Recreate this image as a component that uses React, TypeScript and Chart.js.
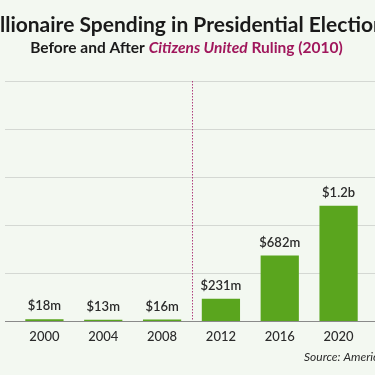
import React, { useEffect, useRef } from "react";
import { Chart, registerables } from "chart.js";

Chart.register(...registerables);

const years = ["2000", "2004", "2008", "2012", "2016", "2020"];
const spending = [0.018, 0.013, 0.016, 0.231, 0.682, 1.2]; // billions USD
const valueLabels = ["$18m", "$13m", "$16m", "$231m", "$682m", "$1.2b"];
const yMax = 2.5;
const yStep = 0.5;

const BG = "#f3f8f1";
const GREEN = "#5aa51e";
const MAGENTA = "#a0175c";
const TEXT = "#2b2b2b";
const FONT = "Lato, 'Open Sans', sans-serif";

const decorPlugin = {
  id: "decor",
  beforeDraw(chart: any) {
    const { ctx, width, height } = chart;
    ctx.save();
    ctx.fillStyle = BG;
    ctx.fillRect(0, 0, width, height);
    ctx.restore();
  },
  beforeDatasetsDraw(chart: any) {
    const { ctx, width, chartArea } = chart;
    const y = chart.scales.y;
    const x = chart.scales.x;
    ctx.save();
    y.ticks.forEach((t: any) => {
      const py = Math.round(y.getPixelForValue(t.value)) + 0.5;
      ctx.beginPath();
      ctx.strokeStyle = t.value === 0 ? "#8a8a8a" : "#d4d8d3";
      ctx.lineWidth = t.value === 0 ? 1.2 : 1;
      ctx.moveTo(5, py);
      ctx.lineTo(width, py);
      ctx.stroke();
    });
    const dx = Math.round((x.getPixelForValue(2) + x.getPixelForValue(3)) / 2) + 0.5;
    ctx.beginPath();
    ctx.strokeStyle = "#b0407e";
    ctx.lineWidth = 1;
    ctx.setLineDash([1.5, 1.5]);
    ctx.moveTo(dx, chartArea.top);
    ctx.lineTo(dx, chartArea.bottom);
    ctx.stroke();
    ctx.restore();
  },
  afterDatasetsDraw(chart: any) {
    const { ctx, width } = chart;
    const meta = chart.getDatasetMeta(0);
    ctx.save();
    ctx.fillStyle = TEXT;
    ctx.font = `600 13px ${FONT}`;
    ctx.textAlign = "center";
    ctx.textBaseline = "middle";
    meta.data.forEach((bar: any, i: number) => {
      ctx.fillText(valueLabels[i], bar.x, bar.y - 13);
    });

    ctx.fillStyle = "#1a1a1a";
    ctx.font = `bold 21px ${FONT}`;
    ctx.textAlign = "center";
    ctx.fillText("Billionaire Spending in Presidential Elections", width / 2, 25);

    const parts = [
      { t: "Before and After ", f: `bold 15.5px ${FONT}`, c: "#1a1a1a" },
      { t: "Citizens United", f: `italic bold 15.5px ${FONT}`, c: MAGENTA },
      { t: " Ruling (2010)", f: `bold 15.5px ${FONT}`, c: MAGENTA },
    ];
    let total = 0;
    parts.forEach((p) => {
      ctx.font = p.f;
      total += ctx.measureText(p.t).width;
    });
    let sx = width / 2 - total / 2 - 1;
    ctx.textAlign = "left";
    parts.forEach((p) => {
      ctx.font = p.f;
      ctx.fillStyle = p.c;
      ctx.fillText(p.t, sx, 48);
      sx += ctx.measureText(p.t).width;
    });

    ctx.font = `italic 12px ${FONT}`;
    ctx.fillStyle = TEXT;
    ctx.textAlign = "left";
    ctx.fillText("Source: Americans for Tax Fairness", 304, 357);
    ctx.restore();
  },
};

export default function App() {
  const ref = useRef<HTMLCanvasElement | null>(null);
  useEffect(() => {
    if (!ref.current) return;
    const chart = new Chart(ref.current, {
      type: "bar",
      data: {
        labels: years,
        datasets: [
          {
            data: spending,
            backgroundColor: GREEN,
            borderWidth: 0,
            barPercentage: 0.65,
            categoryPercentage: 1,
          },
        ],
      },
      options: {
        animation: false,
        responsive: false,
        devicePixelRatio: 1,
        layout: { padding: { left: 15, right: 7, top: 81, bottom: 24 } },
        plugins: {
          legend: { display: false },
          tooltip: { enabled: false },
          title: { display: false },
        },
        scales: {
          x: {
            grid: { display: false },
            border: { display: false },
            ticks: {
              color: TEXT,
              font: { family: FONT, size: 13, weight: 500 as any },
              padding: 0,
            },
            afterFit(scale: any) {
              scale.height = 30;
            },
          },
          y: {
            min: 0,
            max: yMax,
            display: true,
            grid: { display: false },
            border: { display: false },
            ticks: { display: false, stepSize: yStep },
            afterFit(scale: any) {
              scale.width = 0;
            },
          },
        },
      },
      plugins: [decorPlugin],
    });
    return () => chart.destroy();
  }, []);
  return (
    <div style={{ position: "fixed", left: 0, top: 0, width: 375, height: 375, background: BG }}>
      <canvas ref={ref} width={375} height={375} style={{ display: "block" }} />
    </div>
  );
}
